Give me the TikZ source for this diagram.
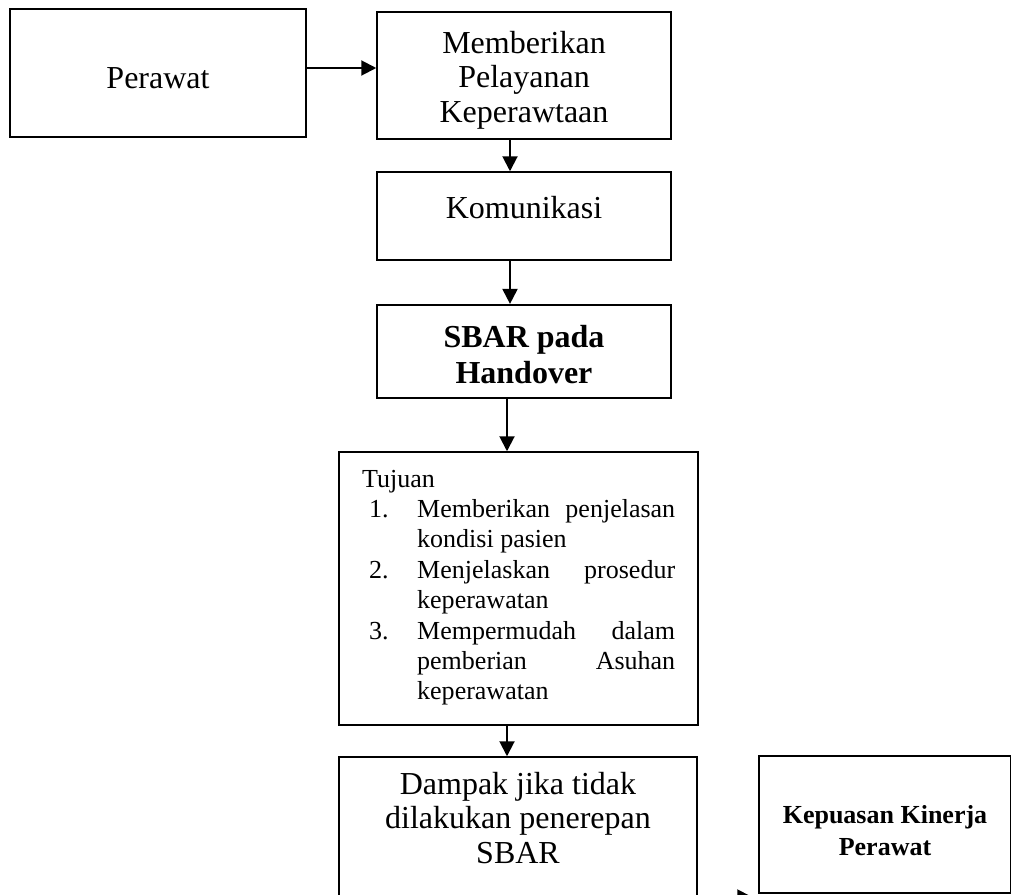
\documentclass[tikz,border=0pt]{standalone}
\usepackage{fontspec}
\setmainfont{Liberation Serif}
\usetikzlibrary{arrows.meta}
\newcommand{\headfont}{\fontsize{32}{34.5}\selectfont}
\newcommand{\listfont}{\fontsize{26}{30.4}\selectfont}
\newcommand{\kepfont}{\fontsize{26}{32}\selectfont\bfseries}
\begin{document}
\begin{tikzpicture}[x=1pt,y=-1pt,
  box/.style={draw, line width=1.5pt, inner sep=0pt},
  boldbox/.style={draw, line width=2.2pt, inner sep=0pt},
  txt/.style={inner sep=0pt, align=center, font=\headfont},
  arr/.style={line width=2pt, -{Triangle[length=15pt,width=15pt]}}]
\clip (0,0) rectangle (1011,894);
\fill[white] (0,0) rectangle (1011,894);
% boxes
\node[box, minimum width=296pt, minimum height=128pt] (perawat) at (158,73) {};
\node[box, minimum width=294pt, minimum height=127pt] (memberikan) at (524,75.5) {};
\node[box, minimum width=294pt, minimum height=88pt] (komunikasi) at (524,216) {};
\node[boldbox, minimum width=294pt, minimum height=93pt] (sbar) at (524,351.5) {};
\node[box, minimum width=359pt, minimum height=273pt] (tujuan) at (518.5,588.5) {};
\node[box, minimum width=358pt, minimum height=143pt] (dampak) at (518,828.5) {};
\node[box, minimum width=251.5pt, minimum height=137pt] (kepuasan) at (884.75,824.5) {};
% texts
\node[txt] (perawatT) at (158,78) {Perawat};
\node[txt] (memberikanT) at (524,80) {Memberikan\\Pelayanan\\Keperawtaan};
\node[txt] (komunikasiT) at (524,208) {Komunikasi};
\node[txt, font=\fontsize{32}{36}\selectfont\bfseries] (sbarT) at (524,355) {SBAR pada\\Handover};
\node[anchor=base west, inner sep=0pt] (tujuanT) at (362,487) {\parbox[t]{340pt}{\listfont\noindent
Tujuan\\
\hspace*{7pt}\makebox[48pt][l]{1.}\makebox[258pt][s]{Memberikan penjelasan}\\
\hspace*{55pt}kondisi pasien\\
\hspace*{7pt}\makebox[48pt][l]{2.}\makebox[258pt][s]{Menjelaskan prosedur}\\
\hspace*{55pt}keperawatan\\
\hspace*{7pt}\makebox[48pt][l]{3.}\makebox[258pt][s]{Mempermudah dalam}\\
\hspace*{55pt}\makebox[258pt][s]{pemberian Asuhan}\\
\hspace*{55pt}keperawatan}};
\node[txt] (dampakT) at (518,818) {Dampak jika tidak\\dilakukan penerepan\\SBAR};
\node[txt, font=\kepfont] (kepuasanT) at (885,831) {Kepuasan Kinerja\\Perawat};
% arrow helpers
\coordinate (ax) at (510,0);
\coordinate (bx) at (507,0);
\coordinate (by) at (0,897);
% connectors
\draw[arr] (perawat.east |- 0,68) -- (memberikan.west |- 0,68);
\draw[arr] (memberikan.south -| ax) -- (komunikasi.north -| ax);
\draw[arr] (komunikasi.south -| ax) -- (sbar.north -| ax);
\draw[arr] (sbar.south -| bx) -- (tujuan.north -| bx);
\draw[arr] (tujuan.south -| bx) -- (dampak.north -| bx);
\draw[arr, shorten >=6pt] (dampak.east |- by) -- (kepuasan.west |- by);
\end{tikzpicture}
\end{document}
